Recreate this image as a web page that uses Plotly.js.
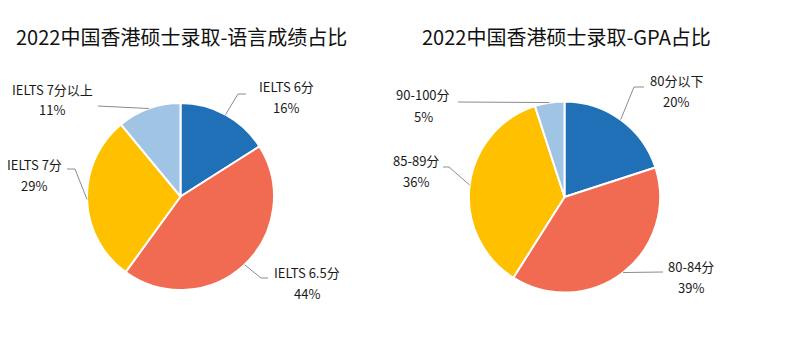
<!DOCTYPE html>
<html><head><meta charset="utf-8">
<script src="https://cdn.plot.ly/plotly-3.0.1.min.js"></script>
<style>html,body{margin:0;padding:0;background:#fff}#chart{width:792px;height:356px}</style>
</head><body><div id="chart"></div>
<script>
// ---- data ----
const titleLang = "2022中国香港硕士录取-语言成绩占比";
const titleGpa = "2022中国香港硕士录取-GPA占比";
const langLabels = ["IELTS 6分", "IELTS 6.5分", "IELTS 7分", "IELTS 7分以上"];
const langValues = [16, 44, 29, 11];
const gpaLabels = ["80分以下", "80-84分", "85-89分", "90-100分"];
const gpaValues = [20, 39, 36, 5];
const colors = ["#1F70B6", "#F06B51", "#FFC000", "#A0C4E4"];

// ---- layout helpers ----
const W = 792, H = 356;
const px = x => x / W, py = y => 1 - y / H;
const pies = [
  {cx: 180.5, cy: 196.5, r: 93.5, labels: langLabels, values: langValues,
   lab: [
     {elbow: [238, 94], end: [246, 94], text: [286, 97]},
     {elbow: [261, 278], end: [268, 278], text: [307, 283]},
     {elbow: [75, 169], end: [67, 169], text: [34, 175]},
     {elbow: null, end: [98, 106], text: [52, 100]}
   ]},
  {cx: 564.5, cy: 197, r: 95.6, labels: gpaLabels, values: gpaValues,
   lab: [
     {elbow: [634, 87], end: [644, 87], text: [676, 91]},
     {elbow: null, end: [663, 272], text: [691, 277]},
     {elbow: [449, 167], end: [443, 167], text: [416, 171]},
     {elbow: null, end: [458, 102], text: [423, 106]}
   ]}
];
const titles = [{text: titleLang, x: 181, y: 37}, {text: titleGpa, x: 566, y: 37}];

const font = '"Noto Sans CJK SC", "Noto Sans", sans-serif';
const data = [], shapes = [], annotations = [];
pies.forEach(p => {
  data.push({
    type: 'pie', labels: p.labels, values: p.values, sort: false, direction: 'clockwise', rotation: 0,
    marker: {colors: colors, line: {color: '#ffffff', width: 2}},
    textinfo: 'none', hoverinfo: 'label+percent', showlegend: false,
    domain: {x: [px(p.cx - p.r), px(p.cx + p.r)], y: [py(p.cy + p.r), py(p.cy - p.r)]}
  });
  const total = p.values.reduce((a, b) => a + b, 0);
  let cum = 0;
  p.values.forEach((v, i) => {
    const th = 2 * Math.PI * (cum + v / 2) / total;
    cum += v;
    const ex = p.cx + p.r * Math.sin(th), ey = p.cy - p.r * Math.cos(th);
    const L = p.lab[i];
    let path = `M ${px(ex)} ${py(ey)}`;
    if (L.elbow) path += ` L ${px(L.elbow[0])} ${py(L.elbow[1])}`;
    path += ` L ${px(L.end[0])} ${py(L.end[1])}`;
    shapes.push({type: 'path', xref: 'paper', yref: 'paper', path: path, line: {color: '#8c8c8c', width: 1}});
    const pct = Math.round(v / total * 100) + '%';
    annotations.push({xref: 'paper', yref: 'paper', x: px(L.text[0]), y: py(L.text[1] - 11), text: p.labels[i],
      showarrow: false, xanchor: 'center', yanchor: 'middle', font: {family: font, size: 13, color: '#1a1a1a'}});
    annotations.push({xref: 'paper', yref: 'paper', x: px(L.text[0]), y: py(L.text[1] + 10), text: pct,
      showarrow: false, xanchor: 'center', yanchor: 'middle', font: {family: font, size: 13, color: '#1a1a1a'}});
  });
});
titles.forEach(t => annotations.push({xref: 'paper', yref: 'paper', x: px(t.x), y: py(t.y), text: t.text,
  showarrow: false, xanchor: 'center', yanchor: 'middle', font: {family: font, size: 20, color: '#111111'}}));

Plotly.newPlot('chart', data, {
  width: W, height: H, margin: {l: 0, r: 0, t: 0, b: 0},
  paper_bgcolor: '#ffffff', plot_bgcolor: '#ffffff',
  shapes: shapes, annotations: annotations
}, {staticPlot: true});
</script></body></html>
